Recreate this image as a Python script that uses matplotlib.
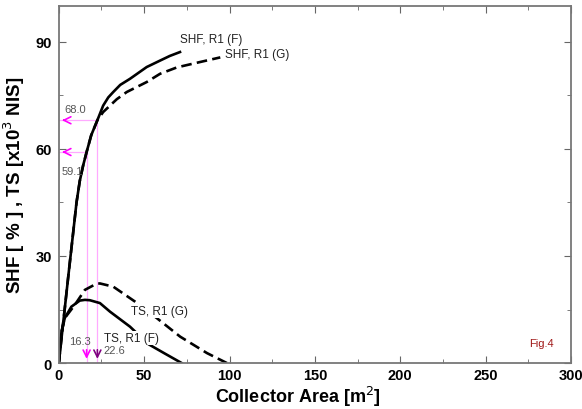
import matplotlib
matplotlib.use('Agg')
import matplotlib.pyplot as plt
from matplotlib.ticker import MultipleLocator

plt.rcParams['font.family'] = ['Liberation Sans', 'DejaVu Sans']

# SHF curves (percent) vs collector area (m^2)
area_shf_f = [0, 5.5, 10.4, 12.3, 14.3, 16.3, 19, 22.6, 26, 29, 31.9, 36, 41.7, 51.5, 59.3, 65, 71]
shf_f = [0, 24, 45, 51, 55.4, 59.1, 63.8, 68.0, 72.1, 74.4, 75.9, 77.9, 79.6, 82.9, 84.7, 86.0, 87.1]
area_shf_g = [0, 5.5, 10.4, 12.3, 14.3, 16.3, 19, 22.6, 26, 30, 34, 39.8, 51.5, 59.3, 69.2, 80, 94.6]
shf_g = [0, 24, 45, 51, 55.4, 59.1, 63.8, 68.0, 70.3, 72.1, 73.9, 75.9, 78.7, 81.0, 82.8, 84.0, 85.6]

# TS curves (x10^3 NIS)
area_ts_f = [0, 1.6, 3.5, 7.4, 12.3, 15.3, 18.2, 24.1, 30, 41.7, 52.5, 62, 72]
ts_f = [0, 8.8, 12.6, 15.8, 17.5, 17.7, 17.6, 16.8, 14.4, 10.2, 5.3, 2.7, 0]
area_ts_g = [0, 1.6, 3.5, 9.4, 15.3, 22, 24.1, 31.9, 44.7, 57.4, 71.1, 86.8, 98.5]
ts_g = [0, 8.8, 12.6, 16.3, 20.5, 22.2, 22.3, 21.4, 17.2, 12.6, 7.4, 2.8, 0]

# optimum points marked on the SHF curves
opt_area = [16.3, 22.6]
opt_shf = [59.1, 68.0]
opt_colors = ['#ff00ff', '#800080']

fig = plt.figure(figsize=(5.82, 4.10), dpi=100)
ax = fig.add_axes([0.101, 0.112, 0.880, 0.871])

ax.plot(area_shf_f, shf_f, color='black', lw=1.9)
ax.plot(area_shf_g, shf_g, color='black', lw=1.9, ls=(0, (4, 2)))
ax.plot(area_ts_f, ts_f, color='black', lw=1.9)
ax.plot(area_ts_g, ts_g, color='black', lw=1.9, ls=(0, (4, 2)))

guide = dict(color='#ffaaff', lw=0.9, zorder=1)
arrow = '->,head_length=0.5,head_width=0.25'
for a, s, c in zip(opt_area, opt_shf, opt_colors):
    ax.plot([0, a], [s, s], **guide)
    ax.plot([a, a], [0, s], **guide)
    ax.annotate('', xy=(0.3, s), xytext=(5, s),
                arrowprops=dict(arrowstyle=arrow, color='#ff00ff', lw=1.2))
    ax.annotate('', xy=(a, 0.4), xytext=(a, 4.5),
                arrowprops=dict(arrowstyle=arrow, color=c, lw=1.2))

ax.text(9.4, 71.2, '68.0', fontsize=8, color='#555555', ha='center', va='center')
ax.text(8.2, 53.9, '59.1', fontsize=8, color='#555555', ha='center', va='center')
ax.text(12.3, 6.1, '16.3', fontsize=8, color='#555555', ha='center', va='center')
ax.text(32.3, 3.6, '22.6', fontsize=8, color='#555555', ha='center', va='center')

box = dict(facecolor='white', edgecolor='none', pad=0.8)
ax.text(71, 90.8, 'SHF, R1 (F)', fontsize=8.5, color='#222222', va='center')
ax.text(97.5, 86.6, 'SHF, R1 (G)', fontsize=8.5, color='#222222', va='center')
ax.text(42.3, 14.5, 'TS, R1 (G)', fontsize=8.5, color='#222222', va='center',
        bbox=box, zorder=3)
ax.text(26.4, 7.0, 'TS, R1 (F)', fontsize=8.5, color='#222222', va='center',
        bbox=box, zorder=3)
ax.text(275.6, 5.6, 'Fig.4', fontsize=8, color='#a01818', va='center')

ax.set_xlim(0, 300)
ax.set_ylim(0, 100)
ax.xaxis.set_major_locator(MultipleLocator(50))
ax.xaxis.set_minor_locator(MultipleLocator(25))
ax.yaxis.set_major_locator(MultipleLocator(30))
ax.yaxis.set_minor_locator(MultipleLocator(15))
ax.tick_params(which='both', direction='in', top=True, right=True,
               color='#666666', labelsize=10.5, pad=5)
ax.tick_params(axis='x', pad=3.5)
ax.tick_params(which='major', length=5)
ax.tick_params(which='minor', length=3)
for lab in ax.get_xticklabels() + ax.get_yticklabels():
    lab.set_fontweight('bold')
for sp in ax.spines.values():
    sp.set_color('#777777')
    sp.set_linewidth(1.3)

ax.set_xlabel('Collector Area [m$^2$]', fontsize=13, fontweight='bold')
ax.xaxis.set_label_coords(0.466, -0.057, transform=ax.transAxes)
ax.xaxis.label.set_va('top')
ax.set_ylabel('SHF [ % ] , TS [x10$^3$ NIS]', fontsize=13.5, fontweight='bold', labelpad=6)

fig.savefig('out.png', dpi=100)
